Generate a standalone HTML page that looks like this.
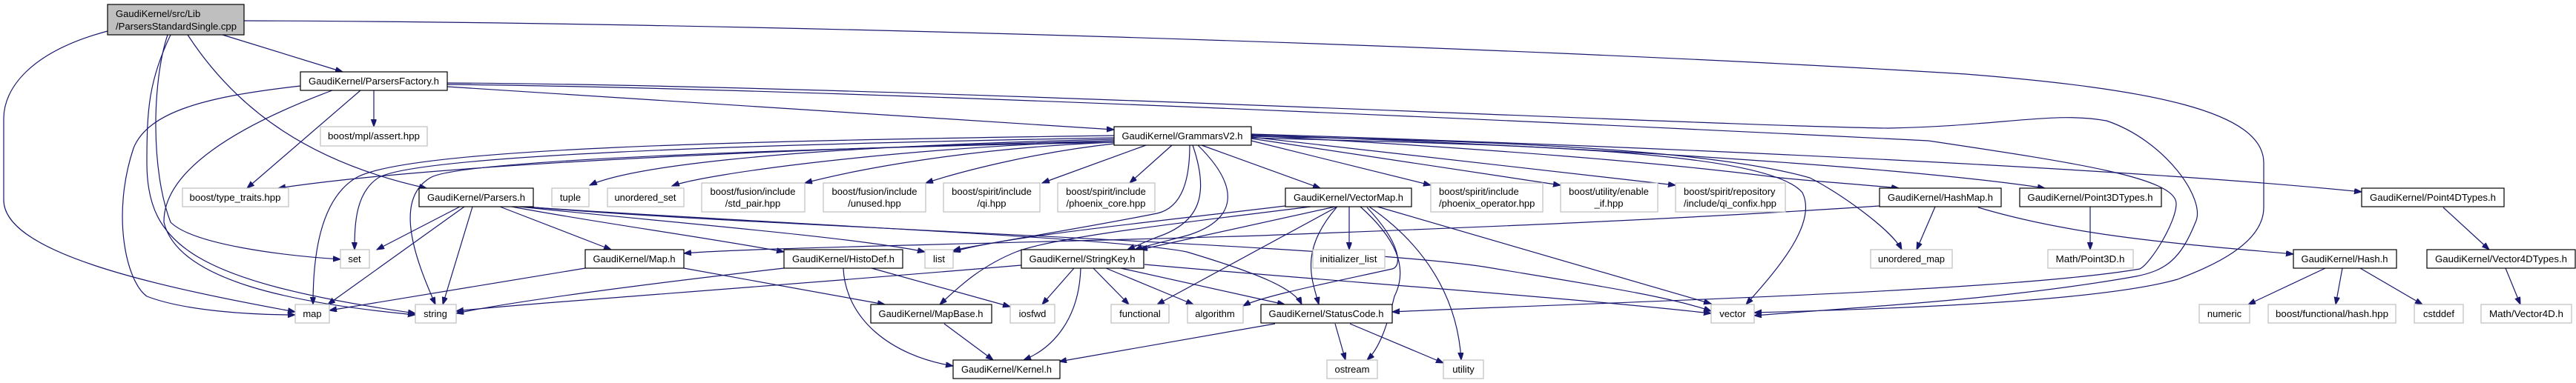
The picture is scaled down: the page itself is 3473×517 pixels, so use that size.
<!DOCTYPE html>
<html><head><meta charset="utf-8"><style>
html,body{margin:0;padding:0;background:#fff;}
svg{display:block;}
text{font-family:"Liberation Sans",sans-serif;font-size:13px;fill:#000;}
.e{fill:none;stroke:#191970;stroke-width:1.2;marker-end:url(#a);}
.b{fill:#fff;stroke:#000;stroke-width:1.2;}
.g{fill:#fff;stroke:#bfbfbf;stroke-width:1.2;}
</style></head><body>
<svg width="3473" height="517" viewBox="0 0 3473 517" xmlns="http://www.w3.org/2000/svg">
<defs><marker id="a" markerUnits="userSpaceOnUse" markerWidth="11" markerHeight="8" refX="10" refY="3.7" orient="auto"><path d="M0,0 L10,3.7 L0,7.4 z" fill="#191970" stroke="#191970"/></marker></defs>
<g>
<!-- root -->
<path class="e" d="M300,47 L462,97"/>
<path class="e" d="M253,47 C320,150 420,220 575,254"/>
<path class="e" d="M145,42 C40,70 5,120 5,160 L5,270 C5,340 200,385 398,421"/>
<path class="e" d="M230,47 C200,110 198,150 198,220 C198,330 260,380 560,423"/>
<path class="e" d="M226,47 C205,110 203,230 230,300 C260,330 380,345 459,350"/>
<path class="e" d="M329,28 C1000,30 2000,60 2650,100 C2900,120 3052,150 3052,220 L3052,280 C3052,330 2980,360 2936,377 C2820,410 2500,418 2365,422"/>
<!-- ParsersFactory -->
<path class="e" d="M504,122 L504,171"/>
<path class="e" d="M486,122 L333,254"/>
<path class="e" d="M405,116 C280,130 200,150 180,200 C150,290 170,380 198,400 C250,420 340,425 398,425"/>
<path class="e" d="M448,122 C320,170 220,230 221,300 C240,380 400,410 560,425"/>
<path class="e" d="M603,117 L1502,175"/>
<path class="e" d="M603,112 C1200,115 2300,170 2546,173 C2700,170 2768,150 2840,163 C2920,190 2975,270 2960,300 C2940,350 2920,365 2880,373 C2700,405 2500,415 2365,426"/>
<path class="e" d="M603,114 C1200,120 2400,180 2600,190 C2800,220 2934,240 2934,275 C2934,300 2900,355 2885,363 C2700,395 2100,410 1877,421"/>
<!-- GrammarsV2 -->
<path class="e" d="M1502,190 C1100,200 600,220 375,254"/>
<path class="e" d="M1502,183 C1000,190 550,200 480,240 C430,270 422,350 422,411"/>
<path class="e" d="M1502,186 C1000,195 560,210 510,240 C480,260 478,300 478,337"/>
<path class="e" d="M1502,192 C1100,200 620,215 580,240 C530,270 560,350 587,411"/>
<path class="e" d="M1502,188 C1000,200 840,230 795,250"/>
<path class="e" d="M1502,190 C1200,200 950,235 906,251"/>
<path class="e" d="M1502,192 C1300,200 1150,230 1085,247"/>
<path class="e" d="M1502,194 C1400,205 1300,230 1248,247"/>
<path class="e" d="M1545,196 L1405,247"/>
<path class="e" d="M1580,196 L1523,247"/>
<path class="e" d="M1604,196 C1604,240 1595,280 1560,288 C1450,310 1320,330 1285,338"/>
<path class="e" d="M1608,196 C1630,260 1620,300 1560,320 C1540,328 1530,333 1520,337"/>
<path class="e" d="M1615,196 C1680,260 1660,300 1600,318 C1570,326 1545,332 1530,337"/>
<path class="e" d="M1620,196 L1780,254"/>
<path class="e" d="M1687,190 L1929,250"/>
<path class="e" d="M1687,187 L2104,250"/>
<path class="e" d="M1687,185 L2259,250"/>
<path class="e" d="M1687,183 C2000,200 2250,220 2400,240 C2450,245 2520,250 2560,254"/>
<path class="e" d="M1687,184 C2000,190 2300,200 2440,240 C2480,260 2550,310 2564,337"/>
<path class="e" d="M1687,186 C2000,195 2380,200 2430,260 C2450,300 2400,360 2354,411"/>
<path class="e" d="M1687,182 C2200,200 2600,230 2757,254"/>
<path class="e" d="M1687,181 C2300,200 2900,230 3184,259"/>
<!-- Parsers.h -->
<path class="e" d="M620,279 L508,337"/>
<path class="e" d="M626,279 L442,411"/>
<path class="e" d="M637,279 L597,411"/>
<path class="e" d="M674,279 L824,337"/>
<path class="e" d="M690,279 C800,300 950,320 1057,340"/>
<path class="e" d="M700,279 C900,300 1150,320 1247,340"/>
<path class="e" d="M705,279 C1000,300 1500,320 1600,340 C1700,370 1745,390 1755,411"/>
<path class="e" d="M710,279 C1000,305 1800,330 2000,360 C2150,385 2250,400 2307,420"/>
<!-- Map.h / HistoDef / StringKey -->
<path class="e" d="M789,362 L444,419"/>
<path class="e" d="M922,362 L1193,411"/>
<path class="e" d="M1057,362 C900,380 700,405 615,423"/>
<path class="e" d="M1175,362 L1362,414"/>
<path class="e" d="M1137,362 C1140,430 1200,480 1285,494"/>
<path class="e" d="M1377,358 C1000,390 700,410 615,420"/>
<path class="e" d="M1448,362 L1405,411"/>
<path class="e" d="M1457,362 C1455,430 1420,470 1380,486"/>
<path class="e" d="M1474,362 L1522,411"/>
<path class="e" d="M1491,362 L1609,411"/>
<path class="e" d="M1511,362 L1732,411"/>
<path class="e" d="M1543,357 C1800,380 2100,400 2307,423"/>
<path class="e" d="M1273,437 L1339,486"/>
<!-- StatusCode -->
<path class="e" d="M1719,437 L1428,488"/>
<path class="e" d="M1800,437 L1814,486"/>
<path class="e" d="M1820,437 L1946,490"/>
<!-- VectorMap -->
<path class="e" d="M1819,279 L1819,337"/>
<path class="e" d="M1834,279 C1880,320 1900,360 1880,400 C1870,440 1860,470 1843,486"/>
<path class="e" d="M1846,279 C1920,330 1965,400 1970,486"/>
<path class="e" d="M1857,279 L2307,410"/>
<path class="e" d="M1800,279 L1537,337"/>
<path class="e" d="M1803,279 L1560,411"/>
<path class="e" d="M1802,280 C1750,340 1770,380 1778,411"/>
<path class="e" d="M1843,280 C1890,330 1890,360 1877,363 C1800,380 1700,400 1676,413"/>
<path class="e" d="M1733,278 C1550,300 1350,320 1285,340"/>
<path class="e" d="M1767,279 C1600,300 1420,320 1370,340 C1320,360 1290,390 1267,411"/>
<!-- HashMap etc -->
<path class="e" d="M2534,278 C2200,300 1900,310 1700,318 C1300,330 1000,335 922,342"/>
<path class="e" d="M2609,279 L2584,337"/>
<path class="e" d="M2667,280 C2800,320 2950,330 3092,343"/>
<path class="e" d="M2818,279 L2818,337"/>
<path class="e" d="M3294,280 L3356,337"/>
<path class="e" d="M3378,362 L3398,411"/>
<path class="e" d="M3135,362 L3031,411"/>
<path class="e" d="M3158,362 L3149,411"/>
<path class="e" d="M3182,362 L3266,411"/>
</g>
<g>
<rect x="145" y="6" width="184" height="41" fill="#bfbfbf" stroke="#000" stroke-width="1.2"/>
<text x="156" y="23">GaudiKernel/src/Lib</text>
<text x="156" y="40" textLength="163" lengthAdjust="spacingAndGlyphs">/ParsersStandardSingle.cpp</text>

<rect class="b" x="405" y="97" width="198" height="25"/><text x="504" y="114" text-anchor="middle" textLength="176" lengthAdjust="spacingAndGlyphs">GaudiKernel/ParsersFactory.h</text>
<rect class="g" x="432" y="171" width="144" height="26"/><text x="504" y="188" text-anchor="middle" textLength="124" lengthAdjust="spacingAndGlyphs">boost/mpl/assert.hpp</text>
<rect class="b" x="1502" y="171" width="185" height="25"/><text x="1594" y="188" text-anchor="middle" textLength="163" lengthAdjust="spacingAndGlyphs">GaudiKernel/GrammarsV2.h</text>
<rect class="g" x="246" y="254" width="143" height="25"/><text x="317" y="271" text-anchor="middle" textLength="123" lengthAdjust="spacingAndGlyphs">boost/type_traits.hpp</text>
<rect class="b" x="565" y="254" width="154" height="25"/><text x="642" y="271" text-anchor="middle" textLength="132" lengthAdjust="spacingAndGlyphs">GaudiKernel/Parsers.h</text>
<rect class="g" x="744" y="254" width="50" height="25"/><text x="769" y="271" text-anchor="middle">tuple</text>
<rect class="g" x="819" y="254" width="103" height="25"/><text x="870" y="271" text-anchor="middle" textLength="83" lengthAdjust="spacingAndGlyphs">unordered_set</text>
<rect class="g" x="946" y="247" width="139" height="39"/><text x="1015" y="263" text-anchor="middle">boost/fusion/include</text><text x="1015" y="279" text-anchor="middle">/std_pair.hpp</text>
<rect class="g" x="1110" y="247" width="138" height="39"/><text x="1179" y="263" text-anchor="middle">boost/fusion/include</text><text x="1179" y="279" text-anchor="middle">/unused.hpp</text>
<rect class="g" x="1272" y="247" width="130" height="39"/><text x="1337" y="263" text-anchor="middle">boost/spirit/include</text><text x="1337" y="279" text-anchor="middle">/qi.hpp</text>
<rect class="g" x="1426" y="247" width="131" height="39"/><text x="1491" y="263" text-anchor="middle">boost/spirit/include</text><text x="1491" y="279" text-anchor="middle">/phoenix_core.hpp</text>
<rect class="b" x="1733" y="254" width="170" height="25"/><text x="1818" y="271" text-anchor="middle" textLength="148" lengthAdjust="spacingAndGlyphs">GaudiKernel/VectorMap.h</text>
<rect class="g" x="1929" y="247" width="151" height="39"/><text x="1940" y="263">boost/spirit/include</text><text x="1940" y="279">/phoenix_operator.hpp</text>
<rect class="g" x="2104" y="247" width="131" height="39"/><text x="2169" y="263" text-anchor="middle">boost/utility/enable</text><text x="2169" y="279" text-anchor="middle">_if.hpp</text>
<rect class="g" x="2259" y="247" width="148" height="39"/><text x="2270" y="263">boost/spirit/repository</text><text x="2270" y="279">/include/qi_confix.hpp</text>
<rect class="b" x="2534" y="254" width="164" height="25"/><text x="2616" y="271" text-anchor="middle" textLength="142" lengthAdjust="spacingAndGlyphs">GaudiKernel/HashMap.h</text>
<rect class="b" x="2723" y="254" width="191" height="25"/><text x="2818" y="271" text-anchor="middle" textLength="169" lengthAdjust="spacingAndGlyphs">GaudiKernel/Point3DTypes.h</text>
<rect class="b" x="3184" y="254" width="192" height="25"/><text x="3280" y="271" text-anchor="middle" textLength="170" lengthAdjust="spacingAndGlyphs">GaudiKernel/Point4DTypes.h</text>
<rect class="g" x="459" y="337" width="39" height="25"/><text x="478" y="354" text-anchor="middle">set</text>
<rect class="b" x="789" y="337" width="133" height="25"/><text x="855" y="354" text-anchor="middle" textLength="111" lengthAdjust="spacingAndGlyphs">GaudiKernel/Map.h</text>
<rect class="b" x="1057" y="337" width="160" height="25"/><text x="1137" y="354" text-anchor="middle" textLength="138" lengthAdjust="spacingAndGlyphs">GaudiKernel/HistoDef.h</text>
<rect class="g" x="1247" y="337" width="38" height="25"/><text x="1266" y="354" text-anchor="middle">list</text>
<rect class="b" x="1377" y="337" width="165" height="25"/><text x="1459" y="354" text-anchor="middle" textLength="143" lengthAdjust="spacingAndGlyphs">GaudiKernel/StringKey.h</text>
<rect class="g" x="1770" y="337" width="97" height="25"/><text x="1818" y="354" text-anchor="middle" textLength="77" lengthAdjust="spacingAndGlyphs">initializer_list</text>
<rect class="g" x="2522" y="337" width="110" height="25"/><text x="2577" y="354" text-anchor="middle" textLength="90" lengthAdjust="spacingAndGlyphs">unordered_map</text>
<rect class="g" x="2761" y="337" width="115" height="25"/><text x="2818" y="354" text-anchor="middle" textLength="93" lengthAdjust="spacingAndGlyphs">Math/Point3D.h</text>
<rect class="b" x="3092" y="337" width="139" height="25"/><text x="3161" y="354" text-anchor="middle" textLength="117" lengthAdjust="spacingAndGlyphs">GaudiKernel/Hash.h</text>
<rect class="b" x="3272" y="337" width="200" height="25"/><text x="3372" y="354" text-anchor="middle" textLength="178" lengthAdjust="spacingAndGlyphs">GaudiKernel/Vector4DTypes.h</text>
<rect class="g" x="398" y="411" width="46" height="25"/><text x="421" y="428" text-anchor="middle">map</text>
<rect class="g" x="560" y="411" width="55" height="25"/><text x="587" y="428" text-anchor="middle">string</text>
<rect class="b" x="1174" y="411" width="163" height="25"/><text x="1255" y="428" text-anchor="middle" textLength="141" lengthAdjust="spacingAndGlyphs">GaudiKernel/MapBase.h</text>
<rect class="g" x="1362" y="411" width="60" height="25"/><text x="1392" y="428" text-anchor="middle">iosfwd</text>
<rect class="g" x="1498" y="411" width="78" height="25"/><text x="1537" y="428" text-anchor="middle">functional</text>
<rect class="g" x="1601" y="411" width="75" height="25"/><text x="1638" y="428" text-anchor="middle">algorithm</text>
<rect class="b" x="1700" y="411" width="177" height="25"/><text x="1788" y="428" text-anchor="middle" textLength="155" lengthAdjust="spacingAndGlyphs">GaudiKernel/StatusCode.h</text>
<rect class="g" x="2307" y="411" width="58" height="25"/><text x="2336" y="428" text-anchor="middle">vector</text>
<rect class="g" x="2965" y="411" width="68" height="25"/><text x="2999" y="428" text-anchor="middle">numeric</text>
<rect class="g" x="3058" y="411" width="172" height="25"/><text x="3144" y="428" text-anchor="middle" textLength="152" lengthAdjust="spacingAndGlyphs">boost/functional/hash.hpp</text>
<rect class="g" x="3255" y="411" width="66" height="25"/><text x="3288" y="428" text-anchor="middle">cstddef</text>
<rect class="g" x="3345" y="411" width="122" height="25"/><text x="3406" y="428" text-anchor="middle" textLength="100" lengthAdjust="spacingAndGlyphs">Math/Vector4D.h</text>
<rect class="b" x="1285" y="486" width="144" height="25"/><text x="1357" y="503" text-anchor="middle" textLength="122" lengthAdjust="spacingAndGlyphs">GaudiKernel/Kernel.h</text>
<rect class="g" x="1789" y="486" width="68" height="25"/><text x="1823" y="503" text-anchor="middle">ostream</text>
<rect class="g" x="1946" y="486" width="54" height="25"/><text x="1973" y="503" text-anchor="middle">utility</text>
</g>
</svg>
</body></html>
